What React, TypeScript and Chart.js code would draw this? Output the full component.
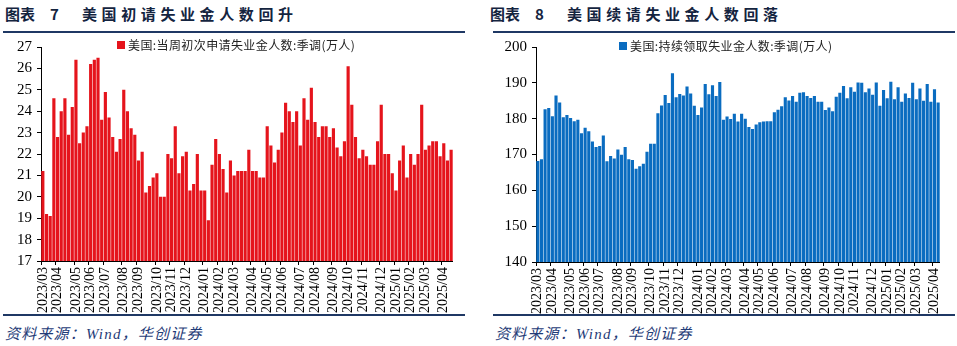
import React, { useEffect, useRef } from "react";
import { Chart, registerables } from "chart.js";
Chart.register(...registerables);

// ---- data ----
const months = [
  "2023/03", "2023/04", "2023/05", "2023/06", "2023/07", "2023/08", "2023/09", "2023/10", "2023/11", "2023/12",
  "2024/01", "2024/02", "2024/03", "2024/04", "2024/05", "2024/06", "2024/07", "2024/08", "2024/09", "2024/10",
  "2024/11", "2024/12", "2025/01", "2025/02", "2025/03", "2025/04",
];
// number of weekly observations falling in each month
const initialWeeksPerMonth = [4, 5, 4, 4, 5, 4, 5, 4, 4, 5, 4, 4, 5, 4, 4, 5, 4, 5, 4, 4, 5, 4, 4, 4, 5, 3];
const continuingWeeksPerMonth = [4, 5, 4, 4, 5, 4, 5, 4, 4, 5, 4, 4, 5, 4, 4, 5, 4, 5, 4, 4, 5, 4, 4, 4, 5, 2];

// 美国:当周初次申请失业金人数:季调(万人)
const initialClaims = [
  21.2, 19.2, 19.1, 24.6, 22.8, 24.0, 24.6, 22.9, 24.2, 26.4,
  22.5, 23.0, 23.3, 26.2, 26.4, 26.5, 23.6, 24.9, 23.7, 22.8,
  22.1, 22.7, 25.0, 24.0, 23.2, 22.9, 21.7, 22.1, 20.2, 20.5,
  20.9, 21.1, 20.0, 20.0, 22.0, 21.8, 23.3, 21.1, 21.9, 22.1,
  20.3, 20.6, 22.0, 20.3, 20.3, 18.9, 21.5, 22.7, 22.0, 21.3,
  20.2, 21.7, 21.0, 21.2, 21.2, 21.2,
  22.2, 21.2, 21.2, 20.9, 20.9, 23.3, 22.4, 21.6, 22.2, 23.0,
  24.4, 24.0, 23.5, 24.0, 22.4, 24.6, 23.6, 25.1, 23.5, 22.8,
  23.3, 23.3, 22.8, 23.2, 22.3, 21.9, 22.6, 26.1, 24.3, 22.8,
  21.8, 22.2, 21.9, 21.5, 21.5, 22.6, 24.3, 22.0, 22.0, 21.1,
  20.3, 21.7, 22.4, 20.9, 22.0, 21.5, 22.0, 24.3, 22.2, 22.4,
  22.6, 22.6, 21.9, 22.5, 21.7, 22.2,
];

// 美国:持续领取失业金人数:季调(万人)
const continuingClaims = [
  168.2, 168.7, 182.6, 183.0, 180.7, 186.5, 184.5, 180.4,
  181.0, 180.2, 179.3, 179.7, 175.9, 177.5, 176.5, 173.6, 172.1, 172.4,
  175.3, 168.1, 169.6, 168.9, 171.4, 169.9, 172.1, 168.7, 168.5, 166.0,
  166.7, 167.4, 170.8, 173.0, 173.0, 181.5, 183.7, 186.6, 184.4, 192.7,
  186.0, 186.9, 186.5, 189.0, 187.0, 183.6, 181.0, 183.1, 189.7, 186.8,
  189.3, 186.3, 190.2, 179.7, 180.6, 179.9, 181.4, 179.2, 181.4, 180.0,
  177.7, 177.1,
  178.4, 179.0, 179.2, 179.3, 179.3, 181.8, 182.5, 183.5, 186.0, 185.1,
  186.3, 184.7, 187.2, 187.4, 186.3, 185.8, 186.3, 184.7, 184.7, 182.4,
  183.1, 182.1, 186.1, 187.2, 189.1, 185.7, 188.8, 187.5, 190.1, 190.0,
  187.4, 188.4, 186.7, 190.1, 183.6, 188.0, 185.7, 190.3, 185.4, 188.8,
  184.7, 187.0, 185.8, 190.0, 185.4, 188.4, 185.0, 189.7, 184.7, 188.2,
  184.5,
];

function expandLabels(ms: string[], counts: number[]): string[] {
  const out: string[] = [];
  ms.forEach((m, i) => {
    for (let k = 0; k < counts[i]; k++) out.push(m);
  });
  return out;
}

const initialLabels = expandLabels(months, initialWeeksPerMonth);
const continuingLabels = expandLabels(months, continuingWeeksPerMonth);

const NAVY = "#1F3864";
const SERIF = '"Liberation Serif", "Times New Roman", serif';
const CJK = '"Noto Sans CJK SC", "Noto Sans", sans-serif';

type PanelProps = {
  labels: string[];
  values: number[];
  color: string;
  yMin: number;
  yMax: number;
  step: number;
  yAxisWidth: number;
  xAxisHeight: number;
  padding: { left: number; right: number; top: number; bottom: number };
  left: number;
  top: number;
  width: number;
  height: number;
};

function BarCanvas(p: PanelProps) {
  const ref = useRef<HTMLCanvasElement>(null);
  useEffect(() => {
    const labels = p.labels;
    const chart = new Chart(ref.current!, {
      type: "bar",
      data: {
        labels,
        datasets: [
          {
            data: p.values,
            backgroundColor: p.color,
            borderWidth: 0,
            barPercentage: 0.86,
            categoryPercentage: 1,
          },
        ],
      },
      options: {
        animation: false,
        responsive: false,
        maintainAspectRatio: false,
        layout: { padding: p.padding },
        plugins: { legend: { display: false }, tooltip: { enabled: false } },
        scales: {
          x: {
            offset: true,
            afterFit: (s: any) => {
              s.height = p.xAxisHeight;
            },
            ticks: {
              autoSkip: false,
              maxRotation: 90,
              minRotation: 90,
              padding: 2,
              color: "#000",
              font: { family: SERIF, size: 14 },
              callback: (_v: any, i: number) =>
                i === 0 || labels[i - 1] !== labels[i] ? labels[i] : "",
            },
            grid: {
              offset: true,
              drawOnChartArea: false,
              tickLength: 4,
              color: (ctx: any) =>
                ctx.tick && ctx.tick.label ? "#000" : "rgba(0,0,0,0)",
            },
            border: { display: true, color: "#000", width: 1 },
          },
          y: {
            min: p.yMin,
            max: p.yMax,
            afterFit: (s: any) => {
              s.width = p.yAxisWidth;
            },
            ticks: {
              stepSize: p.step,
              padding: 5,
              color: "#000",
              font: { family: SERIF, size: 15 },
            },
            grid: { drawOnChartArea: false, tickLength: 4, color: "#000" },
            border: { display: true, color: "#000", width: 1 },
          },
        },
      },
    });
    return () => chart.destroy();
  }, []);
  return (
    <canvas
      ref={ref}
      width={p.width}
      height={p.height}
      style={{ position: "absolute", left: p.left, top: p.top, width: p.width, height: p.height }}
    />
  );
}

function Title({ left, num, text }: { left: number; num: string; text: string }) {
  return (
    <div
      style={{
        position: "absolute",
        left,
        top: 4,
        fontFamily: CJK,
        fontWeight: 700,
        fontSize: 15,
        color: "#14243F",
        whiteSpace: "nowrap",
        lineHeight: "20px",
      }}
    >
      <span>图表</span>
      <span style={{ position: "absolute", left: 45 }}>{num}</span>
      <span style={{ position: "absolute", left: 77, letterSpacing: 4.6 }}>{text}</span>
    </div>
  );
}

function Legend({ left, top, color, text }: { left: number; top: number; color: string; text: string }) {
  return (
    <div
      style={{
        position: "absolute",
        left,
        top,
        display: "flex",
        alignItems: "center",
        fontFamily: CJK,
        fontSize: 12,
        color: "#222",
        whiteSpace: "nowrap",
        lineHeight: "14px",
        letterSpacing: 0.4,
      }}
    >
      <span style={{ display: "inline-block", width: 8, height: 8, background: color, marginRight: 3 }} />
      <span>{text}</span>
    </div>
  );
}

function Rule({ left, top, width, h }: { left: number; top: number; width: number; h: number }) {
  return <div style={{ position: "absolute", left, top, width, height: h, background: NAVY }} />;
}

function Source({ left }: { left: number }) {
  return (
    <div
      style={{
        position: "absolute",
        left,
        top: 325,
        fontFamily: '"Liberation Serif", "Noto Sans CJK SC", serif',
        fontStyle: "italic",
        fontSize: 15,
        letterSpacing: 1.2,
        color: "#1F3C78",
        whiteSpace: "nowrap",
        lineHeight: "18px",
      }}
    >
      资料来源：Wind，华创证券
    </div>
  );
}

export default function App() {
  return (
    <div
      style={{
        position: "fixed",
        left: 0,
        top: 0,
        width: 957,
        height: 346,
        background: "#fff",
        overflow: "hidden",
      }}
    >
      {/* left panel */}
      <Title left={5} num="7" text="美国初请失业金人数回升" />
      <Rule left={3} top={31} width={462} h={2} />
      <BarCanvas
        labels={initialLabels}
        values={initialClaims}
        color="#E5141C"
        yMin={17}
        yMax={27}
        step={1}
        yAxisWidth={41}
        xAxisHeight={53}
        padding={{ left: 0, right: 17, top: 12, bottom: 0 }}
        left={0}
        top={33}
        width={470}
        height={281}
      />
      <Legend left={117} top={38} color="#E5141C" text="美国:当周初次申请失业金人数:季调(万人)" />
      <Rule left={3} top={314} width={462} h={1.5} />
      <Source left={5} />

      {/* right panel */}
      <Title left={490} num="8" text="美国续请失业金人数回落" />
      <Rule left={493} top={31} width={462} h={2} />
      <BarCanvas
        labels={continuingLabels}
        values={continuingClaims}
        color="#0A6CC0"
        yMin={140}
        yMax={200}
        step={10}
        yAxisWidth={58}
        xAxisHeight={52}
        padding={{ left: 0, right: 15, top: 8, bottom: 0 }}
        left={478}
        top={33}
        width={479}
        height={281}
      />
      <Legend left={619} top={39} color="#0A6CC0" text="美国:持续领取失业金人数:季调(万人)" />
      <Rule left={493} top={314} width={462} h={1.5} />
      <Source left={495} />
    </div>
  );
}
